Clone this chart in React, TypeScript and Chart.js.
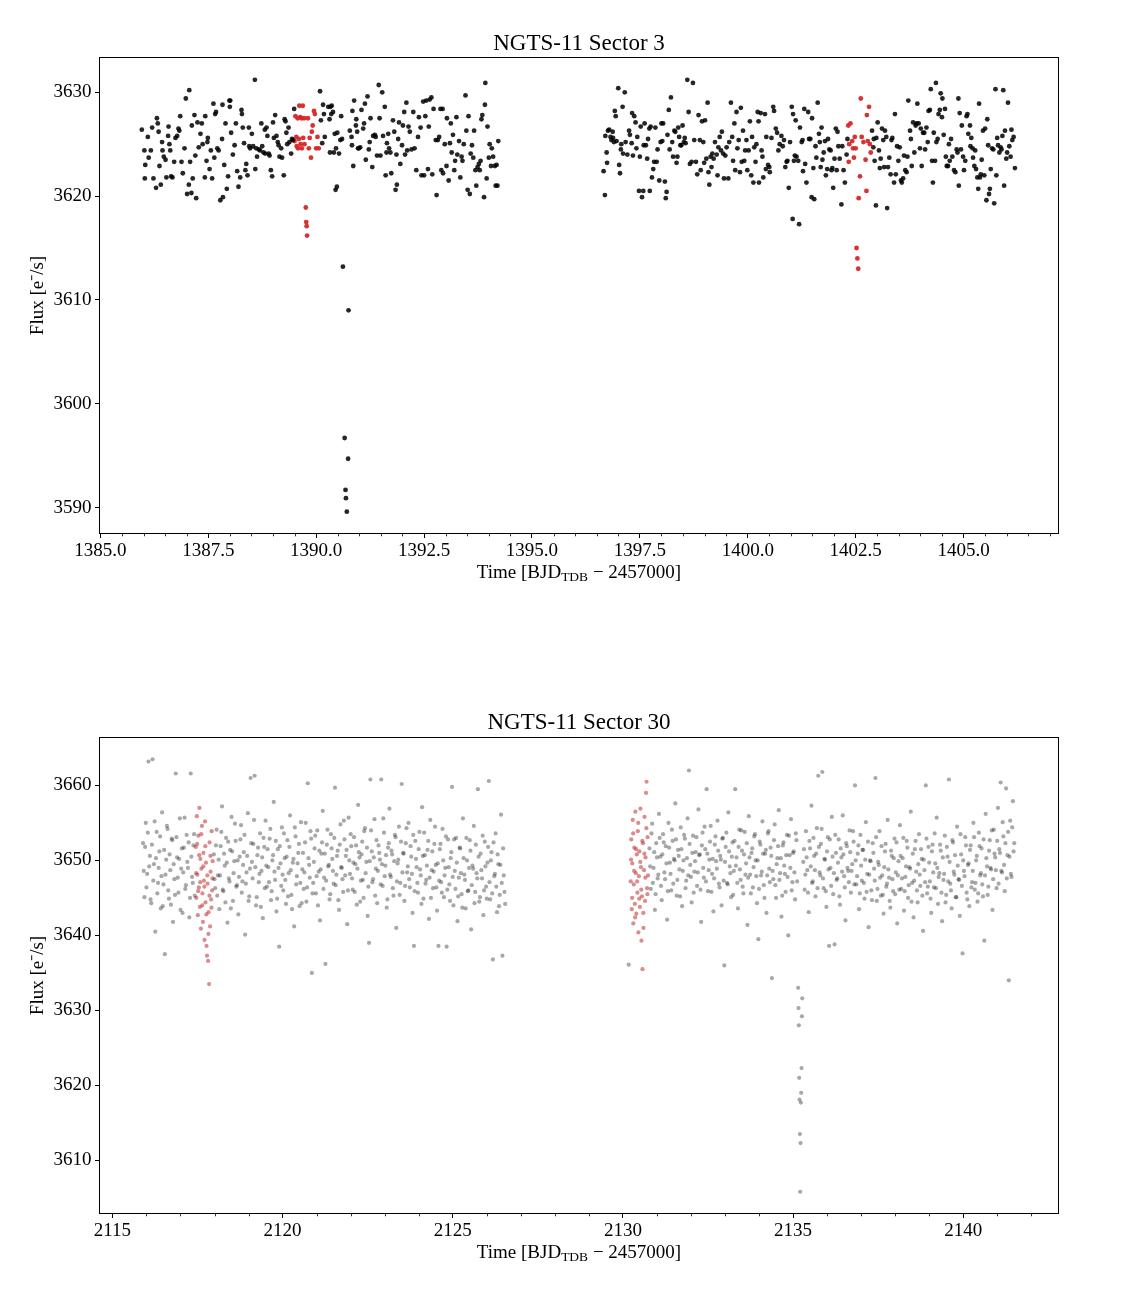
import React, { useEffect, useRef } from "react";
import { Chart, registerables } from "chart.js";

Chart.register(...registerables);

const FAMILY = "'Liberation Serif', 'Times New Roman', Times, serif";

// ---------------- Sector 3 ----------------
const S3_TITLE = "NGTS-11 Sector 3";
const S3_X_RANGE = [1384.98, 1407.2];
const S3_Y_RANGE = [3587.5, 3633.35];
const S3_X_MAJOR = 2.5;
const S3_X_MINOR = 0.5;
const S3_Y_MAJOR = 10;

const S3_ORBIT1: [number, number][] = [
  [1385.96,3626.4],[1386.02,3624.4],[1386.03,3621.7],[1386.04,3623.0],[1386.10,3625.7],[1386.12,3623.7],[1386.17,3624.4],[1386.20,3626.6],[1386.23,3621.7],[1386.29,3620.8],
  [1386.31,3627.5],[1386.33,3627.0],[1386.35,3626.2],[1386.37,3622.9],[1386.40,3621.1],[1386.43,3625.2],[1386.44,3624.4],[1386.47,3623.8],[1386.51,3623.5],[1386.53,3621.8],
  [1386.57,3625.8],[1386.58,3626.7],[1386.60,3625.0],[1386.62,3624.4],[1386.64,3621.9],[1386.67,3621.8],[1386.71,3623.3],[1386.74,3625.6],[1386.78,3625.8],[1386.81,3626.5],
  [1386.83,3626.3],[1386.85,3627.7],[1386.88,3623.3],[1386.91,3622.2],[1386.95,3624.6],[1386.98,3629.4],[1387.01,3620.2],[1387.05,3621.1],[1387.06,3630.2],[1387.08,3623.3],
  [1387.11,3620.3],[1387.12,3626.8],[1387.14,3621.7],[1387.18,3627.8],[1387.20,3623.9],[1387.22,3619.8],[1387.25,3627.1],[1387.28,3624.7],[1387.32,3626.0],[1387.35,3627.0],
  [1387.37,3625.0],[1387.42,3621.8],[1387.43,3627.7],[1387.46,3623.4],[1387.48,3625.2],[1387.49,3625.6],[1387.53,3622.6],[1387.56,3624.4],[1387.59,3621.7],[1387.62,3628.9],
  [1387.64,3623.7],[1387.66,3627.9],[1387.68,3628.1],[1387.71,3624.6],[1387.74,3624.4],[1387.78,3619.6],[1387.82,3625.5],[1387.83,3628.8],[1387.84,3619.9],[1387.87,3623.0],
  [1387.90,3627.0],[1387.93,3620.7],[1387.96,3621.9],[1387.99,3629.2],[1388.00,3628.6],[1388.01,3629.2],[1388.03,3626.1],[1388.07,3624.0],[1388.11,3624.9],[1388.14,3627.0],
  [1388.17,3622.4],[1388.20,3620.9],[1388.24,3621.8],[1388.27,3628.3],[1388.28,3627.9],[1388.30,3626.6],[1388.33,3625.1],[1388.36,3622.5],[1388.38,3623.1],[1388.41,3622.0],
  [1388.44,3626.6],[1388.45,3624.8],[1388.47,3624.6],[1388.51,3626.0],[1388.54,3624.8],[1388.58,3631.2],[1388.59,3622.6],[1388.61,3624.6],[1388.63,3623.8],[1388.67,3624.5],
  [1388.70,3624.4],[1388.73,3627.0],[1388.75,3624.8],[1388.78,3624.2],[1388.81,3626.4],[1388.82,3624.1],[1388.85,3626.6],[1388.87,3625.8],[1388.90,3624.1],[1388.92,3623.9],
  [1388.95,3622.5],[1388.98,3621.9],[1389.00,3627.1],[1389.02,3625.6],[1389.05,3627.8],[1389.08,3625.8],[1389.11,3625.2],[1389.13,3624.9],[1389.15,3623.8],[1389.19,3624.6],
  [1389.21,3623.7],[1389.25,3622.0],[1389.27,3627.4],[1389.29,3627.2],[1389.31,3626.1],[1389.33,3625.0],[1389.36,3626.6],[1389.38,3625.2],[1389.42,3624.1],[1389.44,3625.5],
  [1389.46,3625.4],[1389.49,3628.4],
  [1390.09,3630.1],[1390.11,3627.3],[1390.14,3625.1],[1390.16,3628.8],[1390.18,3627.9],[1390.20,3625.7],[1390.28,3628.6],[1390.31,3627.4],[1390.32,3624.2],[1390.33,3628.6],
  [1390.35,3627.9],[1390.36,3628.7],[1390.39,3628.1],[1390.41,3624.2],[1390.43,3626.0],[1390.45,3620.6],[1390.46,3624.6],[1390.48,3620.9],[1390.49,3626.1],[1390.53,3624.1],
  [1390.56,3625.4],[1390.58,3627.7],[1390.60,3625.5],[1390.62,3613.2],[1390.66,3596.7],[1390.68,3591.7],[1390.69,3590.9],[1390.71,3589.6],[1390.74,3594.7],[1390.75,3609.0],
  [1390.78,3626.3],[1390.82,3625.7],[1390.83,3624.9],[1390.84,3628.2],[1390.86,3622.9],[1390.88,3629.2],[1390.92,3626.8],[1390.93,3627.4],[1390.95,3626.2],[1390.97,3624.6],
  [1390.99,3624.6],[1391.02,3624.7],[1391.05,3628.3],[1391.09,3626.5],[1391.11,3627.0],[1391.13,3628.9],[1391.15,3623.5],[1391.19,3629.6],[1391.22,3624.5],[1391.24,3625.2],
  [1391.26,3627.5],[1391.30,3622.8],[1391.32,3625.8],[1391.36,3625.9],[1391.38,3625.7],[1391.41,3623.9],[1391.45,3630.7],[1391.47,3627.5],[1391.49,3623.9],[1391.53,3630.0],
  [1391.55,3625.8],[1391.59,3628.6],[1391.61,3622.0],[1391.63,3624.2],[1391.64,3625.1],[1391.67,3626.0],[1391.69,3624.6],[1391.72,3624.2],[1391.74,3622.2],[1391.78,3627.3],
  [1391.81,3626.2],[1391.84,3620.6],[1391.86,3624.0],[1391.87,3621.1],[1391.90,3625.5],[1391.92,3627.1],[1391.95,3623.1],[1391.99,3624.9],[1392.01,3626.8],[1392.04,3628.1],
  [1392.06,3624.0],[1392.09,3629.0],[1392.11,3624.4],[1392.14,3626.7],[1392.17,3626.2],[1392.21,3624.5],[1392.25,3628.1],[1392.28,3624.6],[1392.32,3622.5],[1392.36,3625.7],
  [1392.38,3627.6],[1392.42,3626.6],[1392.44,3622.0],[1392.48,3629.1],[1392.50,3622.0],[1392.53,3627.7],[1392.55,3629.2],[1392.59,3622.6],[1392.61,3626.7],[1392.63,3629.3],
  [1392.67,3629.5],[1392.69,3622.1],[1392.72,3628.4],[1392.77,3625.4],[1392.79,3620.1],[1392.82,3625.4],[1392.85,3625.7],[1392.88,3628.4],[1392.90,3622.5],[1392.93,3628.4],
  [1392.94,3622.2],[1392.98,3625.0],[1393.02,3622.9],[1393.03,3627.5],[1393.07,3621.5],[1393.10,3625.1],[1393.12,3627.0],[1393.14,3624.2],[1393.17,3625.9],[1393.20,3622.5],
  [1393.22,3623.4],[1393.25,3627.6],[1393.27,3624.0],[1393.31,3625.3],[1393.34,3621.8],[1393.37,3623.8],[1393.39,3623.4],[1393.42,3625.0],[1393.46,3629.7],[1393.48,3626.3],
  [1393.51,3620.6],[1393.53,3627.7],[1393.56,3620.2],[1393.58,3624.1],[1393.61,3624.9],[1393.64,3623.7],[1393.66,3626.3],[1393.69,3622.5],[1393.71,3621.0],[1393.74,3622.8],
  [1393.77,3623.1],[1393.79,3622.5],[1393.81,3623.4],[1393.83,3627.4],[1393.85,3627.8],[1393.89,3619.9],[1393.91,3628.8],[1393.92,3630.9],[1393.95,3621.7],[1393.97,3626.7],
  [1394.00,3623.7],[1394.02,3625.0],[1394.05,3622.9],[1394.07,3624.6],[1394.10,3623.8],[1394.14,3622.9],[1394.16,3621.0],[1394.18,3623.0],[1394.20,3621.0],[1394.22,3625.3],
];

const S3_ORBIT2: [number, number][] = [
  [1396.66,3622.4],[1396.69,3620.1],[1396.70,3625.8],[1396.73,3624.2],[1396.74,3623.2],[1396.76,3626.3],[1396.79,3626.4],[1396.82,3625.7],[1396.84,3625.4],[1396.87,3626.2],
  [1396.88,3625.6],[1396.90,3625.2],[1396.92,3628.2],[1396.94,3627.7],[1396.96,3625.3],[1397.00,3630.4],[1397.02,3623.0],[1397.04,3622.2],[1397.06,3624.5],[1397.07,3625.0],
  [1397.10,3628.6],[1397.11,3624.1],[1397.15,3630.0],[1397.17,3625.2],[1397.21,3624.0],[1397.25,3626.3],[1397.27,3625.9],[1397.31,3625.1],[1397.32,3628.0],[1397.34,3623.9],
  [1397.37,3627.7],[1397.40,3627.1],[1397.42,3624.6],[1397.44,3625.7],[1397.48,3620.5],[1397.50,3623.8],[1397.52,3626.7],[1397.55,3619.9],[1397.58,3620.5],[1397.59,3624.9],
  [1397.61,3627.0],[1397.64,3624.9],[1397.67,3623.6],[1397.69,3625.5],[1397.72,3626.5],[1397.73,3620.5],[1397.75,3626.7],[1397.78,3621.8],[1397.81,3622.6],[1397.83,3623.3],
  [1397.86,3626.6],[1397.89,3623.3],[1397.91,3624.5],[1397.95,3621.5],[1397.98,3625.2],[1398.00,3627.0],[1398.02,3625.3],[1398.04,3627.0],[1398.08,3621.4],[1398.10,3619.8],
  [1398.12,3620.4],[1398.14,3625.9],[1398.17,3628.3],[1398.19,3624.5],[1398.22,3629.5],[1398.25,3625.2],[1398.27,3623.8],[1398.30,3626.3],[1398.32,3626.2],[1398.35,3623.2],
  [1398.37,3623.8],[1398.39,3626.6],[1398.41,3625.7],[1398.44,3624.9],[1398.46,3624.9],[1398.49,3626.8],[1398.52,3625.2],[1398.54,3625.6],[1398.56,3625.1],[1398.60,3631.2],
  [1398.63,3628.1],[1398.66,3623.1],[1398.70,3623.3],[1398.73,3630.9],[1398.76,3625.4],[1398.80,3623.3],[1398.83,3622.1],[1398.86,3627.8],[1398.89,3625.4],[1398.91,3622.5],
  [1398.94,3627.2],[1398.97,3625.2],[1398.99,3623.2],[1399.01,3627.3],[1399.04,3623.6],[1399.07,3629.0],[1399.09,3622.3],[1399.11,3621.1],[1399.14,3623.8],[1399.16,3622.8],
  [1399.18,3624.1],[1399.21,3623.6],[1399.24,3625.2],[1399.28,3624.0],[1399.30,3622.0],[1399.32,3624.7],[1399.35,3625.7],[1399.38,3624.4],[1399.40,3626.2],[1399.43,3624.1],
  [1399.45,3621.7],[1399.48,3623.9],[1399.51,3624.7],[1399.55,3621.7],[1399.57,3625.2],[1399.61,3629.0],[1399.64,3625.7],[1399.66,3623.4],[1399.69,3627.0],[1399.71,3622.5],
  [1399.74,3628.1],[1399.76,3624.6],[1399.79,3625.4],[1399.82,3622.3],[1399.84,3628.5],[1399.86,3623.3],[1399.89,3626.3],[1399.92,3623.4],[1399.94,3624.4],[1399.97,3625.4],
  [1399.99,3622.5],[1400.02,3624.4],[1400.05,3627.2],[1400.08,3622.0],[1400.10,3625.7],[1400.13,3621.3],[1400.15,3624.7],[1400.18,3623.3],[1400.20,3625.0],[1400.23,3628.1],
  [1400.25,3627.2],[1400.26,3621.3],[1400.30,3628.0],[1400.32,3624.4],[1400.34,3623.8],[1400.36,3621.8],[1400.40,3627.9],[1400.42,3622.6],[1400.43,3625.7],[1400.47,3623.0],
  [1400.50,3622.8],[1400.51,3622.3],[1400.55,3625.6],[1400.59,3628.6],[1400.61,3628.2],[1400.65,3626.5],[1400.68,3626.1],[1400.71,3624.4],[1400.74,3625.0],[1400.78,3625.8],
  [1400.81,3624.8],[1400.84,3625.4],[1400.87,3622.8],[1400.90,3623.3],[1400.92,3623.4],[1400.95,3620.8],[1400.98,3625.2],[1401.02,3628.6],[1401.04,3617.8],[1401.05,3627.9],
  [1401.07,3623.4],[1401.09,3623.9],[1401.11,3627.3],[1401.13,3623.8],[1401.17,3623.4],[1401.19,3617.3],[1401.21,3626.6],[1401.25,3625.2],[1401.27,3625.4],[1401.28,3622.4],
  [1401.31,3628.4],[1401.33,3623.1],[1401.36,3621.3],[1401.40,3628.1],[1401.42,3625.5],
  [1401.45,3625.5],[1401.48,3619.9],[1401.49,3627.5],[1401.52,3622.7],[1401.54,3619.7],[1401.57,3624.8],[1401.59,3623.7],[1401.62,3629.0],[1401.65,3626.0],[1401.67,3625.2],
  [1401.69,3622.8],[1401.71,3626.6],[1401.73,3623.5],[1401.76,3624.2],[1401.79,3625.3],[1401.81,3622.0],[1401.84,3622.6],[1401.86,3625.5],[1401.89,3624.5],[1401.92,3624.4],
  [1401.94,3622.5],[1401.96,3622.7],[1401.98,3620.8],[1402.01,3623.6],[1402.04,3626.5],[1402.06,3622.5],[1402.08,3626.2],[1402.10,3624.8],[1402.13,3623.6],[1402.17,3619.2],
  [1402.19,3624.8],[1402.22,3622.5],[1402.25,3621.3],[1402.29,3624.0],[1402.31,3625.5],
  [1402.88,3626.3],[1402.91,3624.7],[1402.92,3625.5],[1402.94,3623.4],[1402.97,3619.1],[1402.98,3625.6],[1403.01,3627.1],[1403.04,3624.4],[1403.06,3622.7],[1403.08,3623.6],
  [1403.11,3626.5],[1403.14,3625.4],[1403.16,3622.8],[1403.18,3626.3],[1403.21,3625.7],[1403.23,3618.85],[1403.25,3622.8],[1403.28,3623.7],[1403.31,3622.1],[1403.33,3625.4],
  [1403.35,3625.6],[1403.39,3621.3],[1403.41,3627.9],[1403.43,3622.1],[1403.46,3624.8],[1403.49,3623.4],[1403.52,3624.7],[1403.55,3621.5],[1403.57,3621.3],[1403.60,3621.7],
  [1403.62,3623.9],[1403.65,3622.5],[1403.68,3622.3],[1403.70,3623.8],[1403.72,3629.2],[1403.76,3626.3],[1403.78,3625.5],[1403.80,3622.9],[1403.83,3627.1],[1403.86,3624.2],
  [1403.89,3626.8],[1403.91,3627.0],[1403.93,3628.9],[1403.96,3627.0],[1403.99,3624.6],[1404.01,3626.5],[1404.03,3622.9],[1404.06,3626.1],[1404.09,3626.1],[1404.11,3624.5],
  [1404.14,3626.6],[1404.17,3625.2],[1404.19,3628.2],[1404.22,3628.3],[1404.24,3630.3],[1404.27,3623.4],[1404.29,3621.3],[1404.31,3626.1],[1404.34,3623.4],[1404.36,3630.9],
  [1404.37,3625.2],[1404.40,3625.5],[1404.42,3627.9],[1404.45,3628.3],[1404.47,3629.9],[1404.50,3627.6],[1404.51,3629.4],[1404.54,3625.9],[1404.57,3628.4],[1404.59,3623.8],
  [1404.61,3622.9],[1404.64,3622.9],[1404.66,3625.0],[1404.68,3623.4],[1404.71,3625.5],[1404.74,3623.8],[1404.78,3622.5],[1404.81,3622.3],[1404.84,3624.5],[1404.86,3624.2],
  [1404.88,3629.4],[1404.89,3621.0],[1404.91,3628.0],[1404.94,3624.5],[1404.96,3626.8],[1404.99,3623.8],[1405.01,3622.5],[1405.04,3623.4],[1405.07,3627.7],[1405.09,3627.9],
  [1405.11,3626.0],[1405.15,3626.8],[1405.16,3624.8],[1405.18,3625.6],[1405.21,3624.6],[1405.22,3623.7],[1405.25,3622.9],[1405.27,3624.4],[1405.29,3622.6],[1405.32,3621.8],
  [1405.34,3620.7],[1405.36,3628.9],[1405.38,3621.8],[1405.40,3622.1],[1405.42,3623.5],[1405.45,3626.3],[1405.48,3622.0],[1405.50,3626.5],[1405.53,3619.6],[1405.55,3627.4],
  [1405.57,3624.9],[1405.59,3620.2],[1405.61,3620.7],[1405.63,3622.6],[1405.66,3624.6],[1405.69,3624.5],[1405.71,3619.3],[1405.74,3630.3],[1405.76,3622.0],[1405.78,3625.6],
  [1405.80,3624.9],[1405.83,3624.2],[1405.86,3624.7],[1405.88,3624.5],[1405.90,3625.8],[1405.92,3630.2],[1405.94,3621.0],[1405.96,3626.3],[1405.99,3623.6],[1406.01,3624.2],
  [1406.03,3629.0],[1406.06,3624.8],[1406.09,3623.8],[1406.11,3626.4],[1406.13,3625.4],[1406.16,3625.7],[1406.19,3622.7],
];

const S3_TRANSIT_A: [number, number][] = [
  [1389.50,3625.3],[1389.52,3627.7],[1389.54,3625.7],[1389.55,3624.8],[1389.57,3627.5],[1389.58,3624.6],[1389.60,3625.5],[1389.61,3628.7],[1389.63,3627.6],[1389.64,3625.0],
  [1389.66,3627.5],[1389.67,3624.6],[1389.69,3628.7],[1389.70,3625.6],[1389.72,3627.5],[1389.73,3625.0],[1389.76,3618.9],[1389.77,3617.5],[1389.78,3617.1],[1389.79,3616.2],
  [1389.81,3627.5],[1389.83,3624.6],[1389.85,3625.6],[1389.88,3623.7],[1389.90,3626.2],[1389.92,3626.8],[1389.95,3628.2],[1389.97,3627.9],[1390.00,3624.6],[1390.03,3625.7],
  [1390.06,3624.6],
];

const S3_TRANSIT_B: [number, number][] = [
  [1402.33,3626.8],[1402.34,3623.3],[1402.35,3625.0],[1402.38,3627.0],[1402.42,3625.3],[1402.44,3624.6],[1402.46,3623.7],[1402.48,3625.7],[1402.50,3624.6],[1402.52,3615.0],
  [1402.54,3614.0],[1402.56,3613.0],[1402.57,3619.8],[1402.60,3621.9],[1402.62,3629.4],[1402.64,3625.7],[1402.68,3625.2],[1402.73,3623.5],[1402.75,3620.5],[1402.76,3627.8],
  [1402.78,3625.3],[1402.81,3628.6],[1402.83,3625.0],[1402.85,3624.2],
];

// ---------------- Sector 30 ----------------
const S30_TITLE = "NGTS-11 Sector 30";
const S30_X_RANGE = [2114.62, 2142.8];
const S30_Y_RANGE = [3602.9, 3666.4];
const S30_X_MAJOR = 5;
const S30_X_MINOR = 1;
const S30_Y_MAJOR = 10;

const S30_ORBIT1: [number, number][] = [
  [2115.90,3652.3],[2115.94,3645.1],[2115.98,3655.0],[2116.02,3648.2],[2116.06,3663.2],[2116.10,3650.6],[2116.14,3644.3],[2116.18,3663.5],[2116.22,3649.5],[2116.26,3640.5],
  [2116.30,3653.8],[2116.34,3647.0],[2116.38,3651.2],[2116.42,3643.6],[2116.46,3656.4],[2116.50,3646.8],[2116.54,3637.5],[2116.58,3650.1],[2116.62,3654.2],[2116.66,3644.9],
  [2116.70,3648.7],[2116.74,3652.9],[2116.78,3641.8],[2116.82,3647.5],[2116.86,3661.6],[2116.90,3650.4],[2116.94,3645.7],[2116.98,3655.6],[2117.02,3648.9],[2117.06,3643.0],
  [2117.10,3651.7],[2117.14,3646.2],[2117.18,3653.4],[2117.22,3649.0],[2117.26,3642.4],[2117.30,3661.6],[2117.34,3647.8],[2117.38,3652.0],[2117.42,3645.3],
  [2117.98,3650.8],[2118.02,3646.3],[2118.06,3654.1],[2118.10,3648.0],[2118.14,3643.5],[2118.18,3651.9],[2118.22,3657.2],[2118.26,3645.9],[2118.30,3649.3],[2118.34,3653.0],
  [2118.38,3641.7],[2118.42,3647.6],[2118.46,3651.4],[2118.50,3655.8],[2118.54,3644.6],[2118.58,3649.9],[2118.62,3652.6],[2118.66,3646.7],[2118.70,3642.8],[2118.74,3650.5],
  [2118.78,3654.7],[2118.82,3647.2],[2118.86,3651.1],[2118.90,3640.1],[2118.94,3648.4],[2118.98,3656.3],[2119.02,3645.2],[2119.06,3661.0],[2119.10,3649.8],[2119.14,3652.2],
  [2119.18,3661.3],[2119.22,3644.0],[2119.26,3650.7],[2119.30,3647.1],[2119.34,3653.6],[2119.38,3648.6],[2119.42,3642.3],[2119.46,3651.8],[2119.50,3655.3],[2119.54,3646.5],
  [2119.58,3649.1],[2119.62,3652.9],[2119.66,3644.7],[2119.70,3650.0],[2119.74,3657.8],[2119.78,3647.4],[2119.82,3643.2],[2119.86,3651.5],[2119.90,3638.5],[2119.94,3649.6],
  [2119.98,3654.4],[2120.02,3646.0],[2120.06,3650.3],[2120.10,3644.2],[2120.14,3652.7],[2120.18,3648.3],[2120.22,3656.0],[2120.26,3645.4],[2120.30,3649.7],[2120.34,3641.2],
  [2120.38,3653.2],[2120.42,3647.9],[2120.46,3651.0],[2120.50,3643.9],[2120.54,3655.1],[2120.58,3648.8],[2120.62,3646.2],[2120.66,3652.4],[2120.70,3644.5],[2120.74,3660.3],
  [2120.78,3649.4],[2120.82,3653.9],[2120.86,3635.0],[2120.90,3647.0],[2120.94,3651.6],[2120.98,3645.6],[2121.02,3654.0],[2121.06,3648.5],[2121.10,3642.0],[2121.14,3650.9],
  [2121.18,3656.6],[2121.22,3647.7],[2121.26,3636.2],[2121.30,3652.1],[2121.34,3649.2],[2121.38,3644.8],[2121.42,3653.5],[2121.46,3650.2],[2121.50,3646.9],[2121.54,3659.7],
  [2121.58,3648.1],[2121.62,3651.3],[2121.66,3643.4],[2121.70,3654.8],[2121.74,3649.0],[2121.78,3645.8],[2121.82,3652.8],[2121.86,3650.6],[2121.90,3641.5],[2121.94,3655.7],
  [2121.98,3648.2],[2122.02,3651.9],[2122.06,3646.1],[2122.10,3653.1],[2122.14,3649.5],[2122.18,3644.1],[2122.22,3657.4],[2122.26,3650.4],[2122.30,3647.3],[2122.34,3652.5],
  [2122.38,3645.0],[2122.42,3654.3],[2122.46,3649.8],[2122.50,3642.6],[2122.54,3639.0],[2122.58,3660.8],[2122.62,3651.2],[2122.66,3647.5],[2122.70,3655.5],[2122.74,3648.9],
  [2122.78,3644.3],[2122.82,3652.0],[2122.86,3650.1],[2122.90,3660.8],[2122.94,3646.6],[2122.98,3653.7],[2123.02,3649.3],[2123.06,3643.7],[2123.10,3651.7],[2123.14,3656.9],
  [2123.18,3647.8],[2123.22,3650.8],[2123.26,3645.3],[2123.30,3653.4],[2123.34,3641.0],[2123.38,3649.6],[2123.42,3654.5],[2123.46,3647.0],[2123.50,3660.2],[2123.54,3651.0],
  [2123.58,3644.6],[2123.62,3652.3],[2123.66,3648.4],[2123.70,3655.0],[2123.74,3646.4],[2123.78,3650.5],[2123.82,3643.0],[2123.86,3638.6],[2123.90,3652.6],[2123.94,3649.1],
  [2123.98,3645.7],[2124.02,3653.8],[2124.06,3648.0],[2124.10,3657.1],[2124.14,3644.9],[2124.18,3650.7],[2124.22,3647.4],[2124.26,3651.4],[2124.30,3642.2],[2124.34,3655.4],
  [2124.38,3648.7],[2124.42,3646.3],[2124.46,3652.2],[2124.50,3649.4],[2124.54,3643.3],[2124.58,3638.6],[2124.62,3651.5],[2124.66,3647.1],[2124.70,3654.2],[2124.74,3645.1],
  [2124.78,3649.0],[2124.82,3638.5],[2124.86,3652.8],[2124.90,3646.8],[2124.94,3650.3],[2124.98,3659.8],[2125.02,3644.0],[2125.06,3648.6],[2125.10,3653.0],[2125.14,3641.9],
  [2125.18,3647.7],[2125.22,3651.6],[2125.26,3645.5],[2125.30,3655.6],[2125.34,3648.1],[2125.38,3643.6],[2125.42,3650.0],[2125.46,3646.0],[2125.50,3652.7],[2125.54,3640.8],
  [2125.58,3649.3],[2125.62,3654.6],[2125.66,3645.8],[2125.70,3648.3],[2125.74,3659.5],[2125.78,3644.5],[2125.82,3650.9],[2125.86,3647.6],[2125.90,3642.7],[2125.94,3652.5],
  [2125.98,3646.5],[2126.02,3649.7],[2126.06,3660.6],[2126.10,3644.8],[2126.14,3651.1],[2126.18,3636.8],[2126.22,3647.9],[2126.26,3653.6],[2126.30,3643.1],[2126.34,3649.5],
  [2126.38,3645.4],[2126.42,3656.1],[2126.46,3637.3],[2126.50,3648.0],[2126.54,3644.2],
];

const S30_ORBIT1_B: [number, number][] = [
  [2115.92,3648.6],[2115.96,3651.8],[2116.00,3646.4],[2116.04,3653.7],[2116.08,3649.2],[2116.12,3644.8],[2116.16,3652.1],[2116.20,3647.3],[2116.24,3655.2],[2116.28,3650.3],
  [2116.32,3645.6],[2116.36,3649.0],[2116.40,3653.2],[2116.44,3647.9],[2116.48,3643.9],[2116.52,3651.4],[2116.56,3648.1],[2116.60,3654.6],[2116.64,3646.0],[2116.68,3650.8],
  [2116.72,3644.1],[2116.76,3652.7],[2116.80,3649.5],[2116.84,3645.4],[2116.88,3653.1],[2116.92,3647.7],[2116.96,3650.2],[2117.00,3643.4],[2117.04,3651.6],[2117.08,3648.4],
  [2117.12,3655.7],[2117.16,3646.7],[2117.20,3649.8],[2117.24,3652.4],[2117.28,3645.0],[2117.32,3650.5],[2117.36,3647.0],[2117.40,3653.5],
  [2118.00,3647.5],[2118.04,3652.0],[2118.08,3645.3],[2118.12,3650.1],[2118.16,3648.0],[2118.20,3653.8],[2118.24,3646.1],[2118.28,3650.9],[2118.32,3644.4],[2118.36,3649.7],
  [2118.40,3652.5],[2118.44,3647.2],[2118.48,3643.6],[2118.52,3651.2],[2118.56,3648.3],[2118.60,3654.9],[2118.64,3646.5],[2118.68,3650.0],[2118.72,3647.8],[2118.76,3652.8],
  [2118.80,3645.7],[2118.84,3649.4],[2118.88,3653.4],[2118.92,3646.9],[2118.96,3650.6],[2119.00,3644.6],[2119.04,3648.9],[2119.08,3652.3],[2119.12,3647.6],[2119.16,3655.4],
  [2119.20,3649.1],[2119.24,3645.1],[2119.28,3651.7],[2119.32,3648.2],[2119.36,3643.8],[2119.40,3650.4],[2119.44,3653.0],[2119.48,3646.3],[2119.52,3649.3],[2119.56,3651.5],
  [2119.60,3647.1],[2119.64,3654.2],[2119.68,3645.9],[2119.72,3650.7],[2119.76,3648.5],[2119.80,3652.6],[2119.84,3644.9],[2119.88,3649.0],[2119.92,3651.9],[2119.96,3646.6],
  [2120.00,3648.1],[2120.04,3653.6],[2120.08,3647.4],[2120.12,3650.5],[2120.16,3645.2],[2120.20,3651.8],[2120.24,3648.7],[2120.28,3643.5],[2120.32,3650.2],[2120.36,3654.4],
  [2120.40,3646.8],[2120.44,3649.6],[2120.48,3652.2],[2120.52,3647.0],[2120.56,3644.3],[2120.60,3651.0],[2120.64,3648.4],[2120.68,3655.0],[2120.72,3646.4],[2120.76,3650.3],
  [2120.80,3647.7],[2120.84,3652.9],[2120.88,3645.6],[2120.92,3649.8],[2120.96,3653.3],[2121.00,3647.9],[2121.04,3644.0],[2121.08,3651.3],[2121.12,3648.8],[2121.16,3652.4],
  [2121.20,3646.2],[2121.24,3650.9],[2121.28,3647.3],[2121.32,3654.1],[2121.36,3649.4],[2121.40,3645.5],[2121.44,3651.6],[2121.48,3648.6],[2121.52,3653.0],[2121.56,3646.7],
  [2121.60,3650.6],[2121.64,3644.7],[2121.68,3652.1],[2121.72,3649.1],[2121.76,3647.5],[2121.80,3655.3],[2121.84,3648.0],[2121.88,3651.4],[2121.92,3646.0],[2121.96,3650.0],
  [2122.00,3653.5],[2122.04,3647.6],[2122.08,3649.7],[2122.12,3645.8],[2122.16,3652.0],[2122.20,3648.9],[2122.24,3651.1],[2122.28,3644.5],[2122.32,3650.8],[2122.36,3647.4],
  [2122.40,3653.9],[2122.44,3648.3],[2122.48,3651.7],[2122.52,3646.5],[2122.56,3649.9],[2122.60,3654.0],[2122.64,3647.1],[2122.68,3650.4],[2122.72,3645.3],[2122.76,3652.7],
  [2122.80,3648.6],[2122.84,3651.0],[2122.88,3646.8],[2122.92,3649.5],[2122.96,3655.6],[2123.00,3647.9],[2123.04,3650.7],[2123.08,3644.8],[2123.12,3652.3],[2123.16,3648.1],
  [2123.20,3651.3],[2123.24,3646.3],[2123.28,3649.9],[2123.32,3653.1],[2123.36,3647.2],[2123.40,3650.1],[2123.44,3645.4],[2123.48,3652.5],[2123.52,3648.4],[2123.56,3650.9],
  [2123.60,3646.6],[2123.64,3654.3],[2123.68,3649.2],[2123.72,3647.5],[2123.76,3651.9],[2123.80,3648.2],[2123.84,3653.4],[2123.88,3645.9],[2123.92,3650.2],[2123.96,3647.0],
  [2124.00,3651.5],[2124.04,3648.8],[2124.08,3644.2],[2124.12,3650.6],[2124.16,3653.7],[2124.20,3646.9],[2124.24,3649.3],[2124.28,3652.6],[2124.32,3647.7],[2124.36,3645.0],
  [2124.40,3651.2],[2124.44,3648.5],[2124.48,3654.5],[2124.52,3646.4],[2124.56,3649.6],[2124.60,3647.3],[2124.64,3652.2],[2124.68,3645.7],[2124.72,3650.0],[2124.76,3648.0],
  [2124.80,3653.2],[2124.84,3646.1],[2124.88,3649.1],[2124.92,3644.6],[2124.96,3651.1],[2125.00,3647.8],[2125.04,3652.8],[2125.08,3646.2],[2125.12,3649.7],[2125.16,3645.2],
  [2125.20,3651.7],[2125.24,3648.3],[2125.28,3643.7],[2125.32,3650.3],[2125.36,3647.4],[2125.40,3653.0],[2125.44,3645.9],[2125.48,3649.0],[2125.52,3651.3],[2125.56,3646.7],
  [2125.60,3648.9],[2125.64,3644.3],[2125.68,3652.1],[2125.72,3647.6],[2125.76,3650.5],[2125.80,3645.1],[2125.84,3648.7],[2125.88,3653.3],[2125.92,3646.0],[2125.96,3649.2],
  [2126.00,3644.9],[2126.04,3651.8],[2126.08,3647.1],[2126.12,3650.0],[2126.16,3645.6],[2126.20,3652.4],[2126.24,3648.2],[2126.28,3646.5],[2126.32,3650.8],[2126.36,3643.9],
  [2126.40,3649.4],[2126.44,3647.0],[2126.48,3651.6],[2126.52,3645.8],
];

const S30_ORBIT2: [number, number][] = [
  [2130.17,3636.1],
  [2130.78,3651.6],[2130.82,3646.2],[2130.86,3654.9],[2130.90,3649.0],[2130.94,3643.4],[2130.98,3652.3],[2131.02,3647.6],[2131.06,3656.2],[2131.10,3650.5],[2131.14,3644.7],
  [2131.18,3653.5],[2131.22,3648.4],[2131.26,3651.9],[2131.30,3642.1],[2131.34,3655.0],[2131.38,3649.7],[2131.42,3646.0],[2131.46,3652.6],[2131.50,3650.2],[2131.54,3657.6],
  [2131.58,3645.3],[2131.62,3651.4],[2131.66,3648.8],[2131.70,3654.4],[2131.74,3643.9],[2131.78,3650.0],[2131.82,3652.9],[2131.86,3647.3],[2131.90,3655.6],[2131.94,3662.0],
  [2131.98,3649.4],[2132.02,3644.4],[2132.06,3653.3],[2132.10,3648.5],[2132.14,3651.1],[2132.18,3646.6],[2132.22,3656.8],[2132.26,3650.8],[2132.30,3641.8],[2132.34,3653.7],
  [2132.38,3647.7],[2132.42,3651.5],[2132.46,3659.5],[2132.50,3645.9],[2132.54,3650.1],[2132.58,3654.6],[2132.62,3648.2],[2132.66,3643.2],[2132.70,3652.1],[2132.74,3649.9],
  [2132.78,3655.3],[2132.82,3646.9],[2132.86,3650.6],[2132.90,3644.0],[2132.94,3653.0],[2132.98,3636.0],[2133.02,3651.8],[2133.06,3647.0],[2133.10,3656.4],[2133.14,3649.2],
  [2133.18,3645.1],[2133.22,3652.4],[2133.26,3648.6],[2133.30,3659.5],[2133.34,3650.4],[2133.38,3643.6],[2133.42,3654.1],[2133.46,3647.4],[2133.50,3651.3],[2133.54,3645.6],
  [2133.58,3653.8],[2133.62,3649.6],[2133.66,3641.4],[2133.70,3655.9],[2133.74,3648.1],[2133.78,3651.0],[2133.82,3646.4],[2133.86,3653.2],[2133.90,3650.0],[2133.94,3644.3],
  [2133.98,3639.5],[2134.02,3652.5],[2134.06,3648.0],[2134.10,3655.2],[2134.14,3646.7],[2134.18,3650.9],[2134.22,3643.0],[2134.26,3653.6],[2134.30,3648.9],[2134.34,3651.7],
  [2134.38,3634.3],[2134.42,3647.5],[2134.46,3654.8],[2134.50,3645.0],[2134.54,3650.3],[2134.58,3656.7],[2134.62,3648.3],[2134.66,3642.5],[2134.70,3652.0],[2134.74,3649.3],
  [2134.78,3645.8],[2134.82,3653.4],[2134.86,3640.0],[2134.90,3650.7],[2134.94,3655.5],[2134.98,3647.1],[2135.02,3651.2],[2135.06,3644.8],[2135.10,3652.7],
  [2135.15,3633.0],[2135.16,3630.3],[2135.17,3628.0],[2135.18,3621.0],[2135.19,3618.1],[2135.20,3613.5],[2135.21,3605.8],[2135.22,3612.3],[2135.23,3617.7],[2135.24,3619.0],
  [2135.25,3622.3],[2135.26,3629.2],[2135.27,3631.6],
  [2135.30,3649.8],[2135.34,3646.1],[2135.38,3653.9],[2135.42,3648.7],[2135.46,3643.1],[2135.50,3651.6],[2135.54,3657.3],[2135.58,3647.2],[2135.62,3650.6],[2135.66,3645.2],
  [2135.70,3654.3],[2135.74,3661.3],[2135.78,3648.4],[2135.82,3652.2],[2135.86,3661.8],[2135.90,3646.3],[2135.94,3650.1],[2135.98,3643.8],[2136.02,3653.1],[2136.06,3638.6],
  [2136.10,3649.0],[2136.14,3655.8],[2136.18,3645.5],[2136.22,3638.8],[2136.26,3651.0],[2136.30,3647.6],[2136.34,3652.8],[2136.38,3644.1],[2136.42,3650.4],[2136.46,3656.0],
  [2136.50,3647.9],[2136.54,3642.0],[2136.58,3651.9],[2136.62,3648.6],[2136.66,3654.0],[2136.70,3645.7],[2136.74,3649.5],[2136.78,3652.5],[2136.82,3660.0],[2136.86,3646.8],
  [2136.90,3650.9],[2136.94,3643.5],[2136.98,3653.4],[2137.02,3647.3],[2137.06,3651.4],[2137.10,3644.9],[2137.14,3655.1],[2137.18,3648.2],[2137.22,3641.1],[2137.26,3650.0],
  [2137.30,3646.0],[2137.34,3652.3],[2137.38,3648.9],[2137.42,3661.0],[2137.46,3644.6],[2137.50,3649.8],[2137.54,3653.9],[2137.58,3645.3],[2137.62,3648.0],[2137.66,3642.9],
  [2137.70,3651.2],[2137.74,3646.5],[2137.78,3655.4],[2137.82,3647.7],[2137.86,3643.7],[2137.90,3650.6],[2137.94,3645.9],[2137.98,3652.9],[2138.02,3648.4],[2138.06,3641.6],
  [2138.10,3649.9],[2138.14,3654.7],[2138.18,3646.2],[2138.22,3650.3],[2138.26,3643.3],[2138.30,3647.8],[2138.34,3652.6],[2138.38,3645.0],[2138.42,3649.1],[2138.46,3656.5],
  [2138.50,3647.0],[2138.54,3642.4],[2138.58,3651.5],[2138.62,3648.5],[2138.66,3644.4],[2138.70,3653.5],[2138.74,3646.6],[2138.78,3650.2],[2138.82,3640.6],[2138.86,3648.7],
  [2138.90,3660.0],[2138.94,3645.6],[2138.98,3651.8],[2139.02,3647.2],[2139.06,3643.0],[2139.10,3652.1],[2139.14,3646.4],[2139.18,3649.6],[2139.22,3655.7],[2139.26,3644.2],
  [2139.30,3648.3],[2139.34,3651.3],[2139.38,3641.9],[2139.42,3647.4],[2139.46,3653.3],[2139.50,3645.4],[2139.54,3650.5],[2139.58,3660.8],[2139.62,3646.9],[2139.66,3643.6],
  [2139.70,3652.4],[2139.74,3648.1],[2139.78,3645.1],[2139.82,3654.5],[2139.86,3647.5],[2139.90,3642.6],[2139.94,3650.8],[2139.98,3637.6],[2140.02,3648.6],[2140.06,3653.1],
  [2140.10,3645.7],[2140.14,3649.4],[2140.18,3643.9],[2140.22,3652.0],[2140.26,3647.1],[2140.30,3655.0],[2140.34,3646.1],[2140.38,3650.0],[2140.42,3644.5],[2140.46,3653.7],
  [2140.50,3648.0],[2140.54,3651.6],[2140.58,3645.2],[2140.62,3639.3],[2140.66,3656.2],[2140.70,3649.2],[2140.74,3646.5],[2140.78,3652.7],[2140.82,3648.8],[2140.86,3643.4],
  [2140.90,3654.1],[2140.94,3650.4],[2140.98,3646.3],[2141.02,3657.0],[2141.06,3651.5],[2141.10,3660.4],[2141.14,3648.4],[2141.18,3653.2],[2141.22,3645.9],[2141.26,3659.6],
  [2141.30,3650.7],[2141.34,3634.0],[2141.38,3655.3],[2141.42,3647.8],[2141.46,3657.9],[2141.50,3652.3],
];

const S30_ORBIT2_B: [number, number][] = [
  [2130.80,3649.2],[2130.84,3653.6],[2130.88,3647.0],[2130.92,3651.1],[2130.96,3645.5],[2131.00,3650.4],[2131.04,3648.1],[2131.08,3653.0],[2131.12,3646.6],[2131.16,3650.8],
  [2131.20,3652.4],[2131.24,3647.5],[2131.28,3649.6],[2131.32,3645.9],[2131.36,3651.7],[2131.40,3648.2],[2131.44,3654.1],[2131.48,3646.9],[2131.52,3650.0],[2131.56,3652.8],
  [2131.60,3647.4],[2131.64,3650.6],[2131.68,3645.2],[2131.72,3651.5],[2131.76,3648.6],[2131.80,3653.4],[2131.84,3646.3],[2131.88,3650.3],[2131.92,3648.0],[2131.96,3652.2],
  [2132.00,3647.8],[2132.04,3651.0],[2132.08,3645.7],[2132.12,3649.9],[2132.16,3653.1],[2132.20,3648.4],[2132.24,3650.7],[2132.28,3646.1],[2132.32,3652.0],[2132.36,3649.0],
  [2132.40,3654.5],[2132.44,3647.2],[2132.48,3650.9],[2132.52,3648.7],[2132.56,3652.5],[2132.60,3645.8],[2132.64,3650.2],[2132.68,3647.6],[2132.72,3653.2],[2132.76,3648.9],
  [2132.80,3651.3],[2132.84,3646.4],[2132.88,3650.1],[2132.92,3652.9],[2132.96,3647.3],[2133.00,3649.8],[2133.04,3653.7],[2133.08,3646.8],[2133.12,3651.2],[2133.16,3648.3],
  [2133.20,3650.5],[2133.24,3645.4],[2133.28,3652.6],[2133.32,3649.3],[2133.36,3647.0],[2133.40,3651.8],[2133.44,3648.8],[2133.48,3654.0],[2133.52,3646.5],[2133.56,3650.8],
  [2133.60,3648.1],[2133.64,3652.3],[2133.68,3647.7],[2133.72,3650.4],[2133.76,3645.6],[2133.80,3651.6],[2133.84,3649.1],[2133.88,3653.5],[2133.92,3647.9],[2133.96,3650.0],
  [2134.00,3646.2],[2134.04,3652.1],[2134.08,3648.5],[2134.12,3650.9],[2134.16,3645.0],[2134.20,3651.4],[2134.24,3648.0],[2134.28,3653.9],[2134.32,3647.1],[2134.36,3650.6],
  [2134.40,3648.6],[2134.44,3652.7],[2134.48,3646.7],[2134.52,3649.5],[2134.56,3651.9],[2134.60,3647.4],[2134.64,3650.3],[2134.68,3645.3],[2134.72,3652.4],[2134.76,3648.2],
  [2134.80,3650.7],[2134.84,3647.8],[2134.88,3653.3],[2134.92,3649.0],[2134.96,3646.0],[2135.00,3651.0],[2135.04,3648.4],[2135.08,3653.6],[2135.12,3647.2],
  [2135.32,3651.5],[2135.36,3648.1],[2135.40,3650.4],[2135.44,3645.7],[2135.48,3652.6],[2135.52,3649.2],[2135.56,3647.0],[2135.60,3653.0],[2135.64,3648.7],[2135.68,3650.9],
  [2135.72,3646.3],[2135.76,3651.8],[2135.80,3648.0],[2135.84,3654.2],[2135.88,3647.6],[2135.92,3650.2],[2135.96,3645.9],[2136.00,3651.2],[2136.04,3648.8],[2136.08,3652.8],
  [2136.12,3646.6],[2136.16,3650.5],[2136.20,3648.3],[2136.24,3653.4],[2136.28,3647.4],[2136.32,3649.7],[2136.36,3645.2],[2136.40,3651.6],[2136.44,3648.5],[2136.48,3650.8],
  [2136.52,3646.4],[2136.56,3652.3],[2136.60,3649.0],[2136.64,3647.1],[2136.68,3651.1],[2136.72,3648.6],[2136.76,3653.9],[2136.80,3646.8],[2136.84,3650.0],[2136.88,3647.9],
  [2136.92,3652.0],[2136.96,3645.6],[2137.00,3649.3],[2137.04,3651.4],[2137.08,3647.0],[2137.12,3650.1],[2137.16,3645.8],[2137.20,3652.5],[2137.24,3648.1],[2137.28,3649.9],
  [2137.32,3644.7],[2137.36,3651.0],[2137.40,3647.3],[2137.44,3653.1],[2137.48,3646.2],[2137.52,3649.4],[2137.56,3647.7],[2137.60,3651.9],[2137.64,3645.4],[2137.68,3649.1],
  [2137.72,3652.2],[2137.76,3646.9],[2137.80,3648.8],[2137.84,3644.6],[2137.88,3651.3],[2137.92,3647.5],[2137.96,3650.3],[2138.00,3645.5],[2138.04,3652.4],[2138.08,3648.0],
  [2138.12,3646.1],[2138.16,3650.6],[2138.20,3647.6],[2138.24,3653.0],[2138.28,3645.9],[2138.32,3649.2],[2138.36,3651.7],[2138.40,3646.7],[2138.44,3648.9],[2138.48,3644.5],
  [2138.52,3650.9],[2138.56,3647.3],[2138.60,3652.6],[2138.64,3646.0],[2138.68,3649.5],[2138.72,3648.1],[2138.76,3651.5],[2138.80,3645.3],[2138.84,3650.1],[2138.88,3647.1],
  [2138.92,3652.9],[2138.96,3646.5],[2139.00,3649.7],[2139.04,3644.9],[2139.08,3651.2],[2139.12,3648.4],[2139.16,3653.6],[2139.20,3646.3],[2139.24,3649.0],[2139.28,3647.8],
  [2139.32,3652.1],[2139.36,3645.7],[2139.40,3650.4],[2139.44,3648.2],[2139.48,3644.4],[2139.52,3651.8],[2139.56,3647.2],[2139.60,3649.8],[2139.64,3646.0],[2139.68,3652.7],
  [2139.72,3648.5],[2139.76,3650.7],[2139.80,3645.1],[2139.84,3649.3],[2139.88,3647.4],[2139.92,3653.5],[2139.96,3646.6],[2140.00,3650.0],[2140.04,3647.9],[2140.08,3652.0],
  [2140.12,3644.8],[2140.16,3649.6],[2140.20,3651.4],[2140.24,3646.4],[2140.28,3648.6],[2140.32,3653.1],[2140.36,3647.0],[2140.40,3650.6],[2140.44,3645.6],[2140.48,3651.9],
  [2140.52,3648.3],[2140.56,3646.8],[2140.60,3652.8],[2140.64,3648.0],[2140.68,3650.3],[2140.72,3645.4],[2140.76,3651.3],[2140.80,3649.0],[2140.84,3654.0],[2140.88,3647.5],
  [2140.92,3650.9],[2140.96,3648.7],[2141.00,3652.6],[2141.04,3646.9],[2141.08,3651.0],[2141.12,3648.6],[2141.16,3655.1],[2141.20,3649.4],[2141.24,3652.3],[2141.28,3647.6],
  [2141.32,3653.8],[2141.36,3650.5],[2141.40,3648.2],[2141.44,3654.4],[2141.48,3651.2],
];

const S30_TRANSIT_A: [number, number][] = [
  [2117.450,3651.8],[2117.465,3645.0],[2117.480,3655.9],[2117.495,3648.1],[2117.510,3642.7],[2117.525,3653.3],[2117.540,3646.4],[2117.555,3657.0],[2117.570,3643.8],[2117.585,3650.2],
  [2117.600,3640.9],[2117.615,3648.9],[2117.630,3654.6],[2117.645,3645.6],[2117.660,3641.8],[2117.675,3651.0],[2117.690,3647.3],[2117.705,3639.4],[2117.720,3655.2],[2117.735,3644.4],
  [2117.750,3649.7],[2117.765,3638.6],[2117.780,3637.3],[2117.795,3646.9],[2117.810,3636.6],[2117.825,3643.1],[2117.840,3633.5],[2117.855,3652.4],[2117.870,3641.2],[2117.885,3648.5],
  [2117.900,3644.8],[2117.915,3653.9],[2117.930,3646.0],[2117.945,3649.9],
  [2117.46,3648.3],[2117.49,3652.2],[2117.52,3645.9],[2117.55,3650.7],[2117.58,3647.1],[2117.61,3653.5],[2117.64,3644.0],[2117.67,3649.2],[2117.70,3646.5],[2117.73,3651.9],
  [2117.76,3642.8],[2117.79,3648.0],[2117.82,3640.2],[2117.85,3645.3],[2117.88,3650.6],[2117.91,3643.7],[2117.94,3647.6],
];

const S30_TRANSIT_B: [number, number][] = [
  [2130.230,3647.2],[2130.245,3652.8],[2130.260,3643.5],[2130.275,3649.6],[2130.290,3655.4],[2130.305,3641.6],[2130.320,3646.8],[2130.335,3651.7],[2130.350,3644.2],[2130.365,3656.5],
  [2130.380,3648.3],[2130.395,3642.9],[2130.410,3650.8],[2130.425,3645.7],[2130.440,3653.9],[2130.455,3640.4],[2130.470,3647.9],[2130.485,3651.2],[2130.500,3643.8],[2130.515,3656.9],
  [2130.530,3649.1],[2130.545,3639.3],[2130.560,3645.2],[2130.575,3635.5],[2130.590,3652.3],[2130.605,3641.0],[2130.620,3648.7],[2130.635,3655.8],[2130.650,3644.6],[2130.665,3650.4],
  [2130.680,3659.0],[2130.695,3660.5],[2130.710,3646.3],[2130.725,3653.1],[2130.740,3648.0],
  [2130.24,3650.1],[2130.27,3645.0],[2130.30,3653.6],[2130.33,3648.6],[2130.36,3642.4],[2130.39,3651.5],[2130.42,3647.2],[2130.45,3655.0],[2130.48,3644.9],[2130.51,3649.8],
  [2130.54,3646.1],[2130.57,3652.6],[2130.60,3643.0],[2130.63,3650.9],[2130.66,3647.7],[2130.69,3654.3],[2130.72,3645.5],
];

// ---------------- plugins ----------------
const framePlugin = {
  id: "frame",
  afterDraw(chart: any) {
    const { ctx, chartArea: a } = chart;
    ctx.save();
    ctx.strokeStyle = "#000";
    ctx.lineWidth = 1;
    ctx.strokeRect(a.left, a.top, a.right - a.left, a.bottom - a.top);
    ctx.restore();
  },
};

const minorTickPlugin = {
  id: "minorTicks",
  afterDraw(chart: any, _args: any, opts: any) {
    const sx = chart.scales.x;
    const { ctx, chartArea: a } = chart;
    const step = opts.step, major = opts.major;
    ctx.save();
    ctx.strokeStyle = "#000";
    ctx.lineWidth = 0.8;
    const start = Math.ceil(sx.min / step);
    const end = Math.floor(sx.max / step);
    for (let i = start; i <= end; i++) {
      const v = i * step;
      const r = v / major;
      if (Math.abs(r - Math.round(r)) < 1e-6) continue;
      const px = Math.round(sx.getPixelForValue(v)) + 0.5;
      ctx.beginPath();
      ctx.moveTo(px, a.bottom);
      ctx.lineTo(px, a.bottom + 2.8);
      ctx.stroke();
    }
    ctx.restore();
  },
};

const xLabelPlugin = {
  id: "xLabel",
  afterDraw(chart: any) {
    const { ctx, chartArea: a } = chart;
    const y = a.bottom + 39.5;
    const main = `19px ${FAMILY}`;
    const sub = `13.5px ${FAMILY}`;
    const p1 = "Time [BJD";
    const p2 = "TDB";
    const p3 = " \u2212 2457000]";
    ctx.save();
    ctx.font = main;
    const w1 = ctx.measureText(p1).width;
    const w3 = ctx.measureText(p3).width;
    ctx.font = sub;
    const w2 = ctx.measureText(p2).width;
    let x = (a.left + a.right) / 2 - (w1 + w2 + w3) / 2;
    ctx.fillStyle = "#000";
    ctx.textBaseline = "middle";
    ctx.textAlign = "left";
    ctx.font = main;
    ctx.fillText(p1, x, y);
    x += w1;
    ctx.font = sub;
    ctx.fillText(p2, x, y + 4.5);
    x += w2;
    ctx.font = main;
    ctx.fillText(p3, x, y);
    ctx.restore();
  },
};

type PanelSpec = {
  title: string;
  xRange: number[];
  yRange: number[];
  xMajor: number;
  xMinor: number;
  yMajor: number;
  xDecimals: number;
  base: [number, number][][];
  transit: [number, number][][];
  baseColor: string;
  transitColor: string;
  radius: number;
  titleTop: number;
  titleBottom: number;
  xAxisHeight: number;
};

const toXY = (arr: [number, number][][]) => arr.flat().map(([x, y]) => ({ x, y }));

function buildConfig(p: PanelSpec): any {
  const tickFont = { family: FAMILY, size: 19 };
  return {
    type: "scatter",
    data: {
      datasets: [
        {
          data: toXY(p.base),
          backgroundColor: p.baseColor,
          pointRadius: p.radius,
          pointBorderWidth: 0,
          borderWidth: 0,
        },
        {
          data: toXY(p.transit),
          backgroundColor: p.transitColor,
          pointRadius: p.radius,
          pointBorderWidth: 0,
          borderWidth: 0,
        },
      ],
    },
    options: {
      animation: false,
      responsive: false,
      events: [],
      layout: { padding: { left: 0, right: 89.5, top: 0, bottom: 0 } },
      plugins: {
        legend: { display: false },
        tooltip: { enabled: false },
        title: {
          display: true,
          text: p.title,
          color: "#000",
          fullSize: false,
          font: { family: FAMILY, size: 23, weight: "normal" },
          padding: { top: p.titleTop, bottom: p.titleBottom },
        },
        minorTicks: { step: p.xMinor, major: p.xMajor },
      },
      scales: {
        x: {
          type: "linear",
          position: "bottom",
          min: p.xRange[0],
          max: p.xRange[1],
          afterFit: (s: any) => {
            s.height = p.xAxisHeight;
          },
          border: { display: false },
          grid: {
            display: true,
            drawOnChartArea: false,
            drawTicks: true,
            tickLength: 4.5,
            tickWidth: 1,
            tickColor: "#000",
          },
          ticks: {
            stepSize: p.xMajor,
            includeBounds: false,
            autoSkip: false,
            maxRotation: 0,
            minRotation: 0,
            padding: 2,
            color: "#000",
            font: tickFont,
            callback: (v: any) => Number(v).toFixed(p.xDecimals),
          },
        },
        y: {
          type: "linear",
          position: "left",
          min: p.yRange[0],
          max: p.yRange[1],
          afterFit: (s: any) => {
            s.width = 99.5;
          },
          border: { display: false },
          grid: {
            display: true,
            drawOnChartArea: false,
            drawTicks: true,
            tickLength: 4.5,
            tickWidth: 1,
            tickColor: "#000",
          },
          title: {
            display: true,
            text: "Flux [e\u207B/s]",
            color: "#000",
            font: { family: FAMILY, size: 19 },
            padding: { top: 26.5, bottom: 0 },
          },
          ticks: {
            stepSize: p.yMajor,
            includeBounds: false,
            autoSkip: false,
            padding: 3.5,
            color: "#000",
            font: tickFont,
            callback: (v: any) => String(Math.round(Number(v))),
          },
        },
      },
    },
    plugins: [framePlugin, minorTickPlugin, xLabelPlugin],
  };
}

const PANEL_S3: PanelSpec = {
  title: S3_TITLE,
  xRange: S3_X_RANGE,
  yRange: S3_Y_RANGE,
  xMajor: S3_X_MAJOR,
  xMinor: S3_X_MINOR,
  yMajor: S3_Y_MAJOR,
  xDecimals: 1,
  base: [S3_ORBIT1, S3_ORBIT2],
  transit: [S3_TRANSIT_A, S3_TRANSIT_B],
  baseColor: "rgba(0,0,0,0.85)",
  transitColor: "rgba(214,39,40,0.95)",
  radius: 2.4,
  titleTop: 29.9,
  titleBottom: 0,
  xAxisHeight: 112.5,
};

const PANEL_S30: PanelSpec = {
  title: S30_TITLE,
  xRange: S30_X_RANGE,
  yRange: S30_Y_RANGE,
  xMajor: S30_X_MAJOR,
  xMinor: S30_X_MINOR,
  yMajor: S30_Y_MAJOR,
  xDecimals: 0,
  base: [S30_ORBIT1, S30_ORBIT1_B, S30_ORBIT2, S30_ORBIT2_B],
  transit: [S30_TRANSIT_A, S30_TRANSIT_B],
  baseColor: "rgba(0,0,0,0.34)",
  transitColor: "rgba(190,45,45,0.55)",
  radius: 2.1,
  titleTop: 63.4,
  titleBottom: 0.5,
  xAxisHeight: 78.5,
};

function Panel({ spec }: { spec: PanelSpec }) {
  const ref = useRef<HTMLCanvasElement | null>(null);
  useEffect(() => {
    if (!ref.current) return;
    const chart = new Chart(ref.current, buildConfig(spec));
    return () => chart.destroy();
  }, [spec]);
  return (
    <canvas
      ref={ref}
      width={1148}
      height={646}
      style={{ display: "block", width: 1148, height: 646 }}
    />
  );
}

export default function App() {
  return (
    <div
      style={{
        position: "absolute",
        left: 0,
        top: 0,
        width: 1148,
        height: 1292,
        background: "#fff",
      }}
    >
      <Panel spec={PANEL_S3} />
      <Panel spec={PANEL_S30} />
    </div>
  );
}
